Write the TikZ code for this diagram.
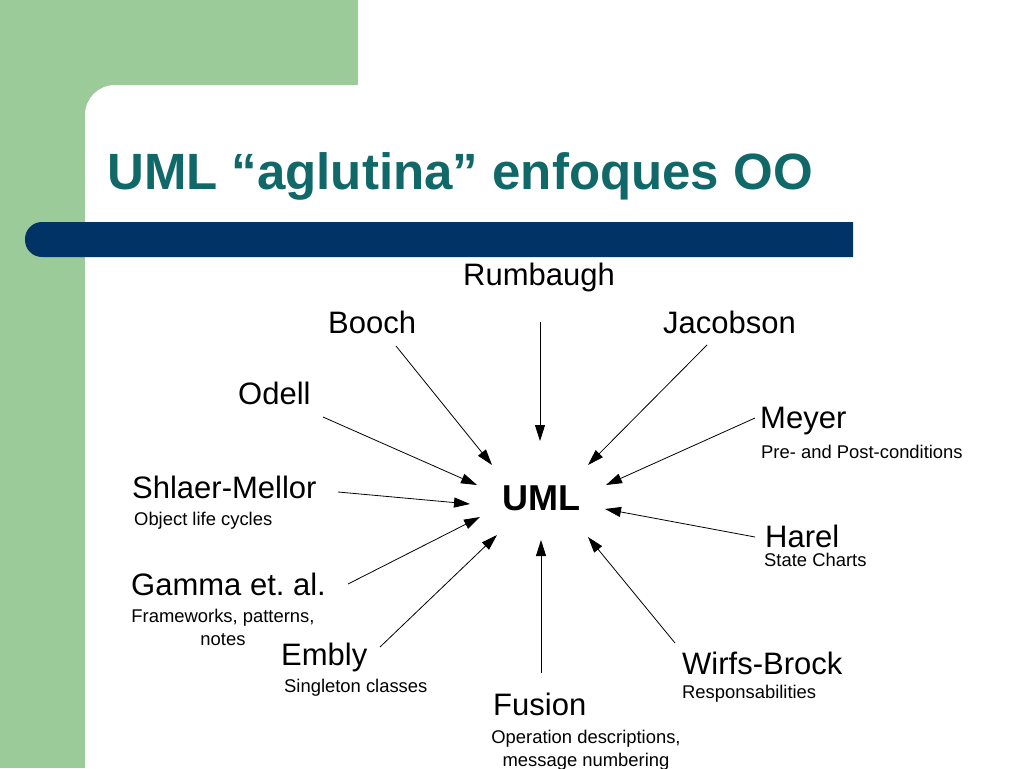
\documentclass[tikz,border=0pt]{standalone}
\usepackage{fontspec}
\setmainfont{Liberation Sans}
\usetikzlibrary{arrows.meta}
\frenchspacing

\definecolor{slidegreen}{HTML}{9BCB98}
\definecolor{barblue}{HTML}{023366}
\definecolor{titleteal}{HTML}{116868}

\tikzset{
  author/.style={anchor=base west, inner sep=0pt, font=\fontsize{31}{36}\selectfont},
  idea/.style={anchor=base west, inner sep=0pt, font=\fontsize{18.4}{23}\selectfont},
  feed/.style={-{Triangle[length=16pt,width=10pt]}, line width=0.8pt},
}

\begin{document}
\begin{tikzpicture}[x=1pt,y=-1pt]
\useasboundingbox (0,0) rectangle (1024,768);

% slide background
\fill[slidegreen] (0,0) rectangle (358,120);
\fill[slidegreen] (0,0) rectangle (85,768);
\fill[white, rounded corners=30pt] (85,85) rectangle (1080,820);
\begin{scope}
  \clip (0,200) rectangle (853,280);
  \fill[barblue, rounded corners=17pt] (25,222) rectangle (900,257);
\end{scope}

\node[anchor=base west, inner sep=0pt, text=titleteal, font=\fontsize{51}{60}\selectfont\bfseries] (title) at (107,189) {UML “aglutina” enfoques OO};

\node[anchor=base west, inner sep=0pt, font=\fontsize{36}{40}\selectfont\bfseries] (uml) at (502,510) {UML};

\node[author] (rumbaugh) at (463,285) {Rumbaugh};
\node[author] (booch) at (328,333) {Booch};
\node[author] (jacobson) at (663,333) {Jacobson};
\node[author] (odell) at (238,404) {Odell};
\node[author] (meyer) at (760,428) {Meyer};
\node[idea] (meyer-idea) at (761,458) {Pre- and Post-conditions};
\node[author] (shlaer) at (132,498) {Shlaer-Mellor};
\node[idea] (shlaer-idea) at (134,525) {Object life cycles};
\node[author] (harel) at (765,547) {Harel};
\node[idea] (harel-idea) at (764,566) {State Charts};
\node[author] (gamma) at (131,595) {Gamma et. al.};
\node[idea, anchor=north, align=center] (gamma-idea) at (223,609) {Frameworks, patterns,\\notes};
\node[author] (embly) at (281,665) {Embly};
\node[idea] (embly-idea) at (284,692) {Singleton classes};
\node[author] (wirfs) at (682,674) {Wirfs-Brock};
\node[idea] (wirfs-idea) at (682,698) {Responsabilities};
\node[author] (fusion) at (493,715) {Fusion};
\node[idea, anchor=north, align=center] (fusion-idea) at (586,730) {Operation descriptions,\\message numbering};

% arrow ends
\coordinate (rumbaugh-s) at (540,322); \coordinate (rumbaugh-t) at (540,441);
\coordinate (booch-s) at (396,346); \coordinate (booch-t) at (492,465);
\coordinate (jacobson-s) at (707,345); \coordinate (jacobson-t) at (588,465);
\coordinate (meyer-s) at (755,418); \coordinate (meyer-t) at (606,485);
\coordinate (odell-s) at (323,417); \coordinate (odell-t) at (477,485);
\coordinate (shlaer-s) at (338,492); \coordinate (shlaer-t) at (470,504);
\coordinate (gamma-s) at (348,584); \coordinate (gamma-t) at (480,517);
\coordinate (embly-s) at (380,647); \coordinate (embly-t) at (497,535);
\coordinate (harel-s) at (755,537); \coordinate (harel-t) at (605,509);
\coordinate (wirfs-s) at (675,643); \coordinate (wirfs-t) at (588,537);
\coordinate (fusion-s) at (541,673); \coordinate (fusion-t) at (541,540);

\draw[feed] (rumbaugh-s) -- (rumbaugh-t);
\draw[feed] (booch-s) -- (booch-t);
\draw[feed] (jacobson-s) -- (jacobson-t);
\draw[feed] (meyer-s) -- (meyer-t);
\draw[feed] (odell-s) -- (odell-t);
\draw[feed] (shlaer-s) -- (shlaer-t);
\draw[feed] (gamma-s) -- (gamma-t);
\draw[feed] (embly-s) -- (embly-t);
\draw[feed] (harel-s) -- (harel-t);
\draw[feed] (wirfs-s) -- (wirfs-t);
\draw[feed] (fusion-s) -- (fusion-t);

\end{tikzpicture}
\end{document}
